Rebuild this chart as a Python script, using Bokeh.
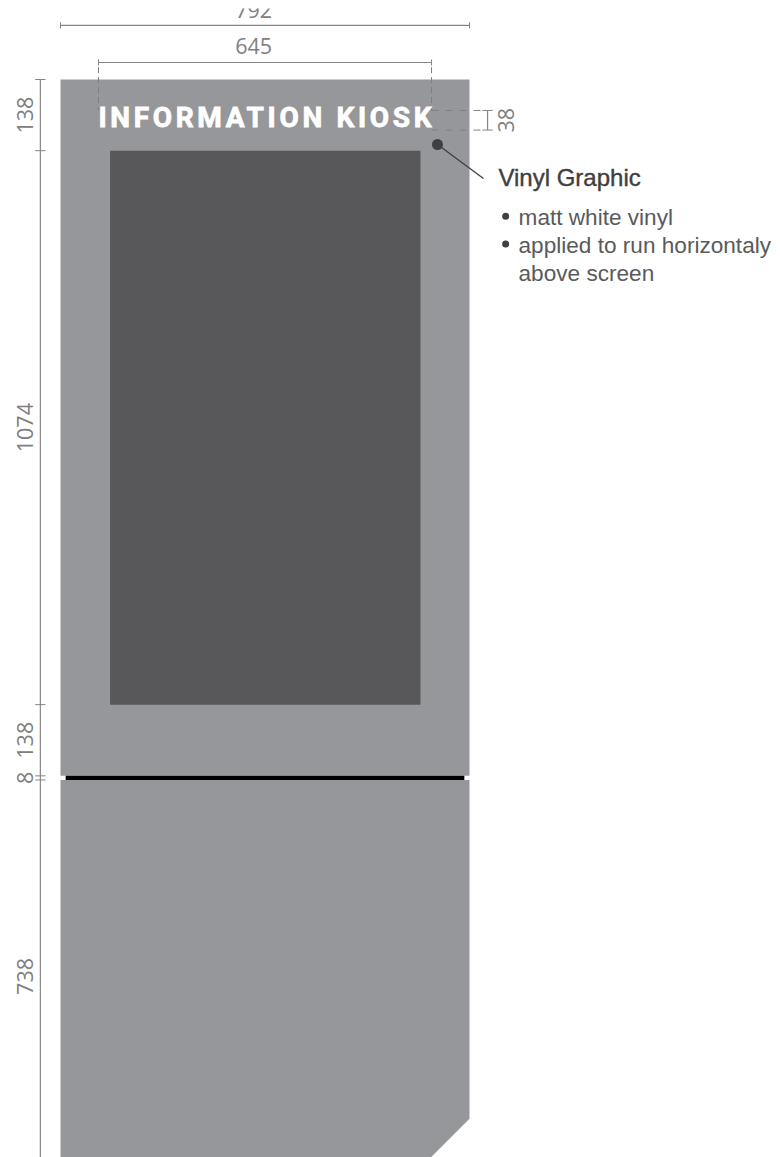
from math import pi
from itertools import accumulate
from bokeh.plotting import figure
from bokeh.document import Document
from bokeh.models import Range1d, CustomJS
from bokeh.events import DocumentReady
from bokeh.core.properties import value
from bokeh.embed import file_html
from bokeh.resources import INLINE

# Drawing dimensions, millimetres
body_width = 792
vinyl_width = 645
vinyl_height = 38
vinyl_top = 60
height_segments = [138, 1074, 138, 8, 738]
height_labels = ["138", "1074", "138", "8", "738"]
label_shift = [0, 0, 0, 0, 12]
width_label_x = 374
screen_left, screen_right = 96, 697
chamfer = 81
seam_inset = 10

kiosk_title = "INFORMATION KIOSK"
callout_title = "Vinyl Graphic"
callout_lines = ["matt white vinyl", "applied to run horizontaly", "above screen"]
callout_line_y = [267, 322, 377]
bullet_y = [265, 319]

BODY, SCREEN, DIM, DARK, TEXT = "#96979a", "#58585a", "#858688", "#3f3f42", "#5a5a5c"
PX_PER_MM_X = 409 / 792
PX_PER_MM_Y = 0.5158
W, H = 780, 1157
x0 = -60 / PX_PER_MM_X
y0 = -79 / PX_PER_MM_Y

p = figure(width=W, height=H, output_backend="svg", toolbar_location=None,
           x_range=Range1d(x0, x0 + W / PX_PER_MM_X),
           y_range=Range1d(y0 + H / PX_PER_MM_Y, y0),
           min_border=0, outline_line_color=None, background_fill_color="white",
           border_fill_color="white")
p.axis.visible = False
p.grid.visible = False

edges = [0] + list(accumulate(height_segments))
upper_end, seam_end, total = edges[3], edges[4], edges[5]

# Body
p.patch([0, body_width, body_width, 0], [0, 0, upper_end, upper_end], color=BODY, line_width=0)
p.patch([0, body_width, body_width, body_width - chamfer, 0],
        [seam_end, seam_end, total - chamfer, total, total], color=BODY, line_width=0)
p.quad(left=[seam_inset], right=[body_width - seam_inset], top=[upper_end], bottom=[seam_end],
       color="black", line_width=0)
# Screen
p.quad(left=[screen_left], right=[screen_right], top=[edges[1]], bottom=[edges[2]],
       color=SCREEN, line_width=0)

label_font = dict(text_font=value("Open Sans"), text_font_size="21.5px", text_color="#808082",
                  text_align="center", text_baseline="middle")

# Vertical dimension line
dim_x = -39
p.segment([dim_x], [0], [dim_x], [total], line_color=DIM, line_width=1.2)
p.segment([dim_x - 10] * 5, edges[:5], [dim_x + 10] * 5, edges[:5], line_color=DIM, line_width=1)
centres = [(a + b) / 2 + s for a, b, s in zip(edges[:-1], edges[1:], label_shift)]
p.text([-69] * 5, centres, text=height_labels, angle=pi / 2, **label_font)

# Width dimensions
vl = (body_width - vinyl_width) / 2
vr = vl + vinyl_width
for y, a, b, lab, by in [(-105, 0, body_width, str(body_width), -135), (-33, vl, vr, str(vinyl_width), -64)]:
    p.segment([a], [y], [b], [y], line_color=DIM, line_width=1.2)
    p.segment([a, b], [y - 6, y - 6], [a, b], [y + 6, y + 6], line_color=DIM, line_width=1)
    p.text([width_label_x], [by], text=[lab], **label_font)

# The reference cuts the top of the overall-width label
p.quad(left=[x0], right=[x0 + W / PX_PER_MM_X], top=[y0], bottom=[y0 + 8 / PX_PER_MM_Y],
       color="white", line_width=0)

# Dashed guides
p.segment([vl, vr], [-24, -24], [vl, vr], [vinyl_top, vinyl_top], line_color="#7d7e80",
          line_width=1, line_dash="6 4")
vt, vb = vinyl_top, vinyl_top + vinyl_height
p.segment([vr, vr], [vt, vb], [813, 813], [vt, vb], line_color="#808082", line_width=1, line_dash="7 7")

# 38 dimension
p.segment([827], [vt], [827], [vb], line_color=DIM, line_width=1.2)
p.segment([817, 817], [vt, vb], [837, 837], [vt, vb], line_color=DIM, line_width=1)
p.text([862], [(vt + vb) / 2], text=[str(vinyl_height)], angle=pi / 2, **label_font)

# Vinyl title
p.text([vl], [74], text=[kiosk_title], text_align="left", text_baseline="middle",
       text_font=value("Roboto"), text_font_style="bold", text_font_size="28px", text_color="white")

# Callout
p.segment([730], [126], [819], [192], line_color=DARK, line_width=1.3)
p.scatter([730], [126], size=11, color=DARK, line_width=0)
p.text([848], [190], text=[callout_title], text_font=value("Liberation Sans"), text_font_size="24px",
       text_baseline="middle", text_color="#3f3f42")
p.scatter([862] * 2, bullet_y, size=7, color=DARK, line_width=0)
p.text([887] * 3, callout_line_y, text=callout_lines, text_font=value("Liberation Sans"),
       text_font_size="22.6px", text_baseline="middle", text_color=TEXT)

# Bokeh has no letter-spacing or text-stroke property: set them on the drawn SVG texts
spacing = CustomJS(args=dict(title=kiosk_title, sub=callout_title, target=vinyl_width * PX_PER_MM_X), code="""
function walk(root) {
  for (const el of root.querySelectorAll('*')) {
    if (el.tagName.toLowerCase() === 'text' && el.textContent === title) {
      el.style.letterSpacing = '0px';
      const len = el.getComputedTextLength();
      el.style.letterSpacing = ((target - len) / (title.length - 1)) + 'px';
      el.style.stroke = 'white';
      el.style.strokeWidth = '0.8px';
    }
    if (el.tagName.toLowerCase() === 'text' && el.textContent === sub) {
      el.style.stroke = '#3f3f42';
      el.style.strokeWidth = '0.4px';
    }
    if (el.shadowRoot) walk(el.shadowRoot);
  }
}
walk(document);
setTimeout(() => walk(document), 50);
setTimeout(() => walk(document), 300);
""")

doc = Document()
doc.add_root(p)
doc.js_on_event(DocumentReady, spacing)

open("out.html", "w").write(file_html(doc, INLINE))
